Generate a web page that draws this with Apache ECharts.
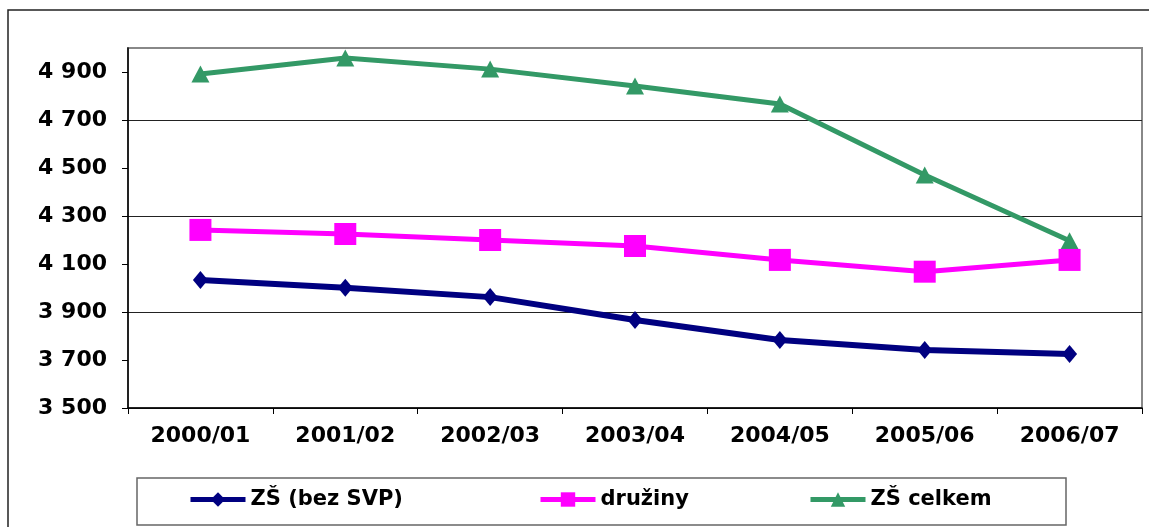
<!DOCTYPE html>
<html>
<head>
<meta charset="utf-8">
<script src="https://cdn.jsdelivr.net/npm/echarts@6/dist/echarts.min.js"></script>
<style>
html,body{margin:0;padding:0;background:#fff;}
#main{width:1149px;height:527px;}
</style>
</head>
<body>
<div id="main"></div>
<script>
var roky = ['2000/01','2001/02','2002/03','2003/04','2004/05','2005/06','2006/07'];
var zsBezSvp = [4033, 4001, 3962, 3867, 3783, 3742, 3725];
var druziny = [4242, 4225, 4200, 4175, 4117, 4068, 4117];
var zsCelkem = [4892, 4958, 4912, 4842, 4767, 4471, 4197];
var yTicks = [3500, 3700, 3900, 4100, 4300, 4500, 4700, 4900];
var nazvy = ['ZŠ (bez SVP)', 'družiny', 'ZŠ celkem'];

var chart = echarts.init(document.getElementById('main'));
var font = 'DejaVu Sans, Verdana, sans-serif';

function fmt(v){
	var s = String(v);
	return s.length > 3 ? s.slice(0, s.length-3) + ' ' + s.slice(-3) : s;
}

// jedna legenda pro kazdou radu, aby sedely pozice jako v Excelu
var legendLeft = [188, 538, 808];
var legends = [];
for (var i = 0; i < nazvy.length; i++) {
	legends.push({
		left: legendLeft[i], top: 489,
		padding: 0,
		itemWidth: 55, itemHeight: 18,
		lineStyle: {width: 5},
		textStyle: {fontFamily: font, fontWeight: 'bold', fontSize: 21, color: '#000'},
		data: [nazvy[i]]
	});
}

var option = {
	animation: false,
	graphic: [{
		type: 'rect',
		shape: {x: 8, y: 10, width: 1300, height: 700},
		style: {fill: 'none', stroke: '#222', lineWidth: 1.5},
		silent: true
	}, {
		type: 'rect',
		shape: {x: 137, y: 478, width: 929, height: 47},
		style: {fill: 'none', stroke: '#666', lineWidth: 1.5},
		silent: true
	}],
	grid: {
		left: 128, right: 7, top: 48, bottom: 119,
		show: true, borderColor: '#888', borderWidth: 2
	},
	legend: legends,
	xAxis: {
		type: 'category',
		data: roky,
		boundaryGap: true,
		axisLine: {lineStyle: {color: '#000', width: 1.5}},
		axisTick: {show: true, length: 6, lineStyle: {color: '#000'}},
		axisLabel: {margin: 17, fontFamily: font, fontWeight: 'bold', fontSize: 22, color: '#000'}
	},
	yAxis: {
		type: 'value',
		min: 3500, max: 5000, interval: 100,
		axisLine: {show: true, lineStyle: {color: '#000', width: 1.5}},
		axisTick: {show: true, length: 6, customValues: yTicks, lineStyle: {color: '#000'}},
		axisLabel: {margin: 21, customValues: yTicks, fontFamily: font, fontWeight: 'bold', fontSize: 22, color: '#000',
			formatter: function(v){ return fmt(v); }},
		splitLine: {show: true, lineStyle: {color: ['#222', 'rgba(0,0,0,0)'], width: 1}}
	},
	series: [{
		name: nazvy[0],
		type: 'line',
		data: zsBezSvp,
		symbol: 'diamond', symbolSize: [15, 18],
		lineStyle: {color: '#000080', width: 6},
		itemStyle: {color: '#000080'}
	}, {
		name: nazvy[1],
		type: 'line',
		data: druziny,
		symbol: 'rect', symbolSize: 22,
		lineStyle: {color: '#FF00FF', width: 5},
		itemStyle: {color: '#FF00FF'}
	}, {
		name: nazvy[2],
		type: 'line',
		data: zsCelkem,
		z: 1,
		symbol: 'triangle', symbolSize: [18, 17],
		lineStyle: {color: '#339966', width: 5},
		itemStyle: {color: '#339966'}
	}]
};
chart.setOption(option);
</script>
</body>
</html>
